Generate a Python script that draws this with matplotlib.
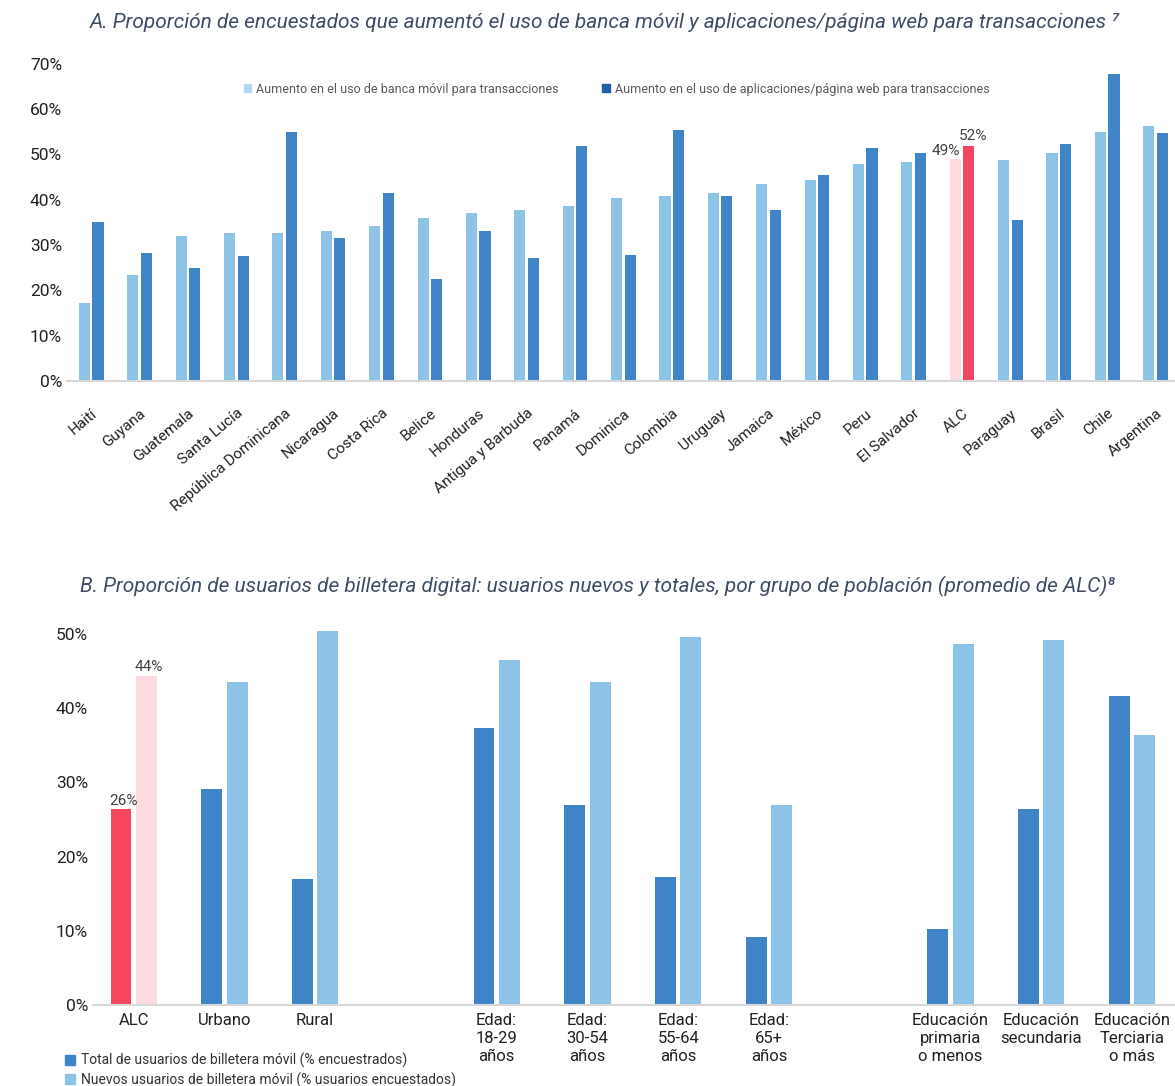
import numpy as np
import matplotlib.pyplot as plt
from matplotlib.patches import Patch

plt.rcParams['font.family'] = ['Roboto', 'DejaVu Sans']

# ---- Panel A data ----
paises = ['Haití', 'Guyana', 'Guatemala', 'Santa Lucía', 'República Dominicana',
          'Nicaragua', 'Costa Rica', 'Belice', 'Honduras', 'Antigua y Barbuda',
          'Panamá', 'Dominica', 'Colombia', 'Uruguay', 'Jamaica', 'México',
          'Peru', 'El Salvador', 'ALC', 'Paraguay', 'Brasil', 'Chile', 'Argentina']
banca_movil = [17.3, 23.5, 31.9, 32.6, 32.6, 33.0, 34.3, 36.0, 37.0, 37.7,
               38.7, 40.4, 40.7, 41.4, 43.4, 44.4, 47.8, 48.2, 48.9, 48.8,
               50.2, 54.9, 56.3]
apps_web = [35.0, 28.2, 24.9, 27.5, 54.9, 31.6, 41.4, 22.5, 33.0, 27.2,
            51.9, 27.8, 55.3, 40.7, 37.7, 45.4, 51.3, 50.2, 51.9, 35.6,
            52.2, 67.8, 54.6]

# ---- Panel B data ----
grupos = ['ALC', 'Urbano', 'Rural',
          'Edad:\n18-29\naños', 'Edad:\n30-54\naños', 'Edad:\n55-64\naños', 'Edad:\n65+\naños',
          'Educación\nprimaria\no menos', 'Educación\nsecundaria', 'Educación\nTerciaria\no más']
bloque = [0, 0, 0, 1, 1, 1, 1, 2, 2, 2]
total_usuarios = [26.4, 29.1, 17.0, 37.3, 27.0, 17.2, 9.2, 10.3, 26.4, 41.6]
nuevos_usuarios = [44.4, 43.5, 50.4, 46.5, 43.5, 49.6, 27.0, 48.7, 49.2, 36.4]

LIGHT = '#8EC3E8'
DARK = '#3F84C6'
RED = '#F4465E'
PINK = '#FCDAE0'
TXT = '#404040'
TITLE = '#3E4D63'
AXIS = '#D9D9D9'

fig = plt.figure(figsize=(11.75, 10.86), dpi=100)

# ================= Panel A =================
ax1 = fig.add_axes([0.057, 0.649, 0.945, 0.2925])
x = np.arange(len(paises))
w = 0.23
off = 0.14
c_light = [PINK if p == 'ALC' else LIGHT for p in paises]
c_dark = [RED if p == 'ALC' else DARK for p in paises]
ax1.bar(x - off, banca_movil, w, color=c_light)
ax1.bar(x + off, apps_web, w, color=c_dark)

i_alc = paises.index('ALC')
ax1.annotate(f'{banca_movil[i_alc]:.0f}%', (x[i_alc] - off, banca_movil[i_alc]),
             xytext=(-7, 1), textcoords='offset points', ha='center', va='bottom',
             fontsize=11, color=TXT)
ax1.annotate(f'{apps_web[i_alc]:.0f}%', (x[i_alc] + off, apps_web[i_alc]),
             xytext=(3, 2), textcoords='offset points', ha='center', va='bottom',
             fontsize=11, color=TXT)

ax1.set_xlim(-0.5, 22.45)
ax1.set_ylim(0, 70)
ax1.set_yticks(range(0, 71, 10))
ax1.set_yticklabels([f'{v}%' for v in range(0, 71, 10)], fontsize=12.5, color='#222222')
ax1.set_xticks(x)
ax1.set_xticklabels(paises, rotation=40, ha='right', rotation_mode='anchor',
                    fontsize=11, color='#222222')
ax1.tick_params(axis='both', length=0)
ax1.tick_params(axis='x', pad=18)
for s in ['top', 'right', 'left']:
    ax1.spines[s].set_visible(False)
ax1.spines['bottom'].set_color(AXIS)
ax1.spines['bottom'].set_linewidth(1.5)

leg1 = ax1.legend(handles=[Patch(color='#B4D7F0', label='Aumento en el uso de banca móvil para transacciones'),
                           Patch(color='#1F5FA8', label='Aumento en el uso de aplicaciones/página web para transacciones')],
                  loc='upper center', bbox_to_anchor=(0.495, 0.975), ncol=2, frameon=False,
                  fontsize=9, handlelength=0.6, handleheight=0.6, handletextpad=0.4,
                  columnspacing=3.5)
for t in leg1.get_texts():
    t.set_color('#595959')

fig.text(0.515, 0.979, 'A. Proporción de encuestados que aumentó el uso de banca móvil y aplicaciones/página web para transacciones ⁷',
         ha='center', va='center', fontsize=15, style='italic', color=TITLE)

# ================= Panel B =================
ax2 = fig.add_axes([0.079, 0.0746, 0.923, 0.3552])
xb = np.arange(len(grupos)) + np.array(bloque)
c_tot = [RED if g == 'ALC' else DARK for g in grupos]
c_new = [PINK if g == 'ALC' else LIGHT for g in grupos]
ax2.bar(xb - off, total_usuarios, w, color=c_tot)
ax2.bar(xb + off, nuevos_usuarios, w, color=c_new)

j = grupos.index('ALC')
ax2.annotate(f'{total_usuarios[j]:.0f}%', (xb[j] - off, total_usuarios[j]),
             xytext=(2, 1), textcoords='offset points', ha='center', va='bottom',
             fontsize=11, color=TXT)
ax2.annotate(f'{nuevos_usuarios[j]:.0f}%', (xb[j] + off, nuevos_usuarios[j]),
             xytext=(2, 1), textcoords='offset points', ha='center', va='bottom',
             fontsize=11, color=TXT)

ax2.set_xlim(-0.45, xb[-1] + 0.5)
ax2.set_ylim(0, 52)
ax2.set_yticks(range(0, 51, 10))
ax2.set_yticklabels([f'{v}%' for v in range(0, 51, 10)], fontsize=12.5, color='#222222')
ax2.set_xticks(xb)
ax2.set_xticklabels(grupos, fontsize=12, color='#222222', linespacing=1.25, va='top')
ax2.tick_params(axis='both', length=0)
ax2.tick_params(axis='x', pad=6)
for s in ['top', 'right', 'left']:
    ax2.spines[s].set_visible(False)
ax2.spines['bottom'].set_color(AXIS)
ax2.spines['bottom'].set_linewidth(1.5)

leg2 = fig.legend(handles=[Patch(color=DARK, label='Total de usuarios de billetera móvil (% encuestrados)'),
                           Patch(color=LIGHT, label='Nuevos usuarios de billetera móvil (% usuarios encuestados)')],
                  loc='lower left', bbox_to_anchor=(0.045, -0.013), ncol=1, frameon=False,
                  fontsize=10, handlelength=0.7, handleheight=0.7, handletextpad=0.4,
                  labelspacing=0.3)
for t in leg2.get_texts():
    t.set_color('#333333')

fig.text(0.508, 0.46, 'B. Proporción de usuarios de billetera digital: usuarios nuevos y totales, por grupo de población (promedio de ALC)⁸',
         ha='center', va='center', fontsize=15, style='italic', color=TITLE)

fig.savefig('out.png', dpi=100)
